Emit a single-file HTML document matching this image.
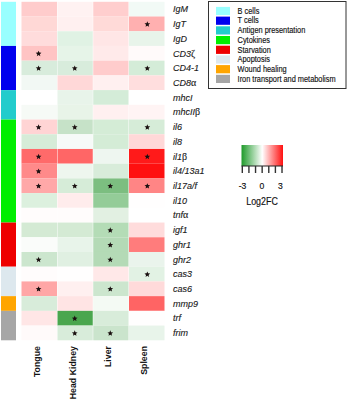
<!DOCTYPE html>
<html><head><meta charset="utf-8"><style>
html,body{margin:0;padding:0;background:#fff;}
body{width:348px;height:400px;overflow:hidden;}
svg{display:block;}
text{font-family:"Liberation Sans",sans-serif;fill:#1a1a1a;}
.lab{font-size:9px;font-style:italic;fill:#1a1a1a;stroke:#1a1a1a;stroke-width:0.12px;}
.gr{font-family:"Liberation Serif",serif;font-style:normal;font-size:10px;}
.leg{font-size:8.3px;fill:#111;stroke:#111;stroke-width:0.15px;}
.cs{font-size:8.6px;fill:#111;stroke:#111;stroke-width:0.15px;}
.cs2{font-size:10px;fill:#111;stroke:#111;stroke-width:0.15px;}
.col{font-size:8.8px;font-weight:bold;fill:#111;}
</style></head><body>
<svg width="348" height="400" viewBox="0 0 348 400">
<rect width="348" height="400" fill="#fff"/>
<rect x="1" y="1.80" width="15" height="44.15" fill="#99ffff"/>
<rect x="1" y="45.95" width="15" height="44.15" fill="#0000ee"/>
<rect x="1" y="90.10" width="15" height="29.43" fill="#22cccc"/>
<rect x="1" y="119.54" width="15" height="103.02" fill="#00ee00"/>
<rect x="1" y="222.56" width="15" height="44.15" fill="#ee0000"/>
<rect x="1" y="266.71" width="15" height="29.43" fill="#dde8ee"/>
<rect x="1" y="296.14" width="15" height="14.72" fill="#ffa500"/>
<rect x="1" y="310.86" width="15" height="29.43" fill="#a6a6a6"/>
<rect x="21.50" y="1.80" width="35.50" height="14.72" fill="#ffcccc"/>
<rect x="57.50" y="1.80" width="35.25" height="14.72" fill="#fff2f2"/>
<rect x="93.25" y="1.80" width="35.25" height="14.72" fill="#ffcece"/>
<rect x="129.00" y="1.80" width="35.50" height="14.72" fill="#f2faf6"/>
<text x="173" y="12.36" class="lab">IgM</text>
<rect x="21.50" y="16.52" width="35.50" height="14.72" fill="#ffd8d6"/>
<rect x="57.50" y="16.52" width="35.25" height="14.72" fill="#fff0f0"/>
<rect x="93.25" y="16.52" width="35.25" height="14.72" fill="#ffdad8"/>
<rect x="129.00" y="16.52" width="35.50" height="14.72" fill="#ffb0b0"/>
<polygon points="147.32,21.28 148.12,23.18 150.18,23.35 148.61,24.69 149.09,26.70 147.32,25.63 145.56,26.70 146.04,24.69 144.47,23.35 146.53,23.18" fill="#1a1010"/>
<text x="173" y="27.08" class="lab">IgT</text>
<rect x="21.50" y="31.23" width="35.50" height="14.72" fill="#ffdcdc"/>
<rect x="57.50" y="31.23" width="35.25" height="14.72" fill="#e0f2e4"/>
<rect x="93.25" y="31.23" width="35.25" height="14.72" fill="#ffe6e6"/>
<rect x="129.00" y="31.23" width="35.50" height="14.72" fill="#e8f4ea"/>
<text x="173" y="41.79" class="lab">IgD</text>
<rect x="21.50" y="45.95" width="35.50" height="14.72" fill="#ffc4c4"/>
<rect x="57.50" y="45.95" width="35.25" height="14.72" fill="#e6f4e8"/>
<rect x="93.25" y="45.95" width="35.25" height="14.72" fill="#ffeaea"/>
<rect x="129.00" y="45.95" width="35.50" height="14.72" fill="#fffafa"/>
<polygon points="38.58,50.71 39.37,52.62 41.43,52.78 39.86,54.13 40.34,56.14 38.58,55.06 36.81,56.14 37.29,54.13 35.72,52.78 37.78,52.62" fill="#1a1010"/>
<text x="173" y="56.51" class="lab">CD3<tspan class="gr">ζ</tspan></text>
<rect x="21.50" y="60.67" width="35.50" height="14.72" fill="#d8ecdc"/>
<rect x="57.50" y="60.67" width="35.25" height="14.72" fill="#d8ecdc"/>
<rect x="93.25" y="60.67" width="35.25" height="14.72" fill="#ffcccc"/>
<rect x="129.00" y="60.67" width="35.50" height="14.72" fill="#d4ecd8"/>
<polygon points="38.58,65.43 39.37,67.33 41.43,67.50 39.86,68.84 40.34,70.85 38.58,69.78 36.81,70.85 37.29,68.84 35.72,67.50 37.78,67.33" fill="#1a1010"/>
<polygon points="74.72,65.43 75.52,67.33 77.58,67.50 76.01,68.84 76.49,70.85 74.72,69.78 72.96,70.85 73.44,68.84 71.87,67.50 73.93,67.33" fill="#1a1010"/>
<polygon points="147.32,65.43 148.12,67.33 150.18,67.50 148.61,68.84 149.09,70.85 147.32,69.78 145.56,70.85 146.04,68.84 144.47,67.50 146.53,67.33" fill="#1a1010"/>
<text x="173" y="71.23" class="lab">CD4-1</text>
<rect x="21.50" y="75.39" width="35.50" height="14.72" fill="#f2f8f4"/>
<rect x="57.50" y="75.39" width="35.25" height="14.72" fill="#ffd8d8"/>
<rect x="93.25" y="75.39" width="35.25" height="14.72" fill="#fff0f0"/>
<rect x="129.00" y="75.39" width="35.50" height="14.72" fill="#ffdede"/>
<text x="173" y="85.94" class="lab">CD8<tspan class="gr">α</tspan></text>
<rect x="21.50" y="90.10" width="35.50" height="14.72" fill="#ffffff"/>
<rect x="57.50" y="90.10" width="35.25" height="14.72" fill="#e8f4ea"/>
<rect x="93.25" y="90.10" width="35.25" height="14.72" fill="#d4ecd8"/>
<rect x="129.00" y="90.10" width="35.50" height="14.72" fill="#ffffff"/>
<text x="173" y="100.66" class="lab">mhcI</text>
<rect x="21.50" y="104.82" width="35.50" height="14.72" fill="#f6faf6"/>
<rect x="57.50" y="104.82" width="35.25" height="14.72" fill="#e8f4e8"/>
<rect x="93.25" y="104.82" width="35.25" height="14.72" fill="#fff0f0"/>
<rect x="129.00" y="104.82" width="35.50" height="14.72" fill="#fff4f4"/>
<text x="173" y="115.38" class="lab">mhcII<tspan class="gr">β</tspan></text>
<rect x="21.50" y="119.54" width="35.50" height="14.72" fill="#ffd4d4"/>
<rect x="57.50" y="119.54" width="35.25" height="14.72" fill="#c6e2c8"/>
<rect x="93.25" y="119.54" width="35.25" height="14.72" fill="#d4ecd6"/>
<rect x="129.00" y="119.54" width="35.50" height="14.72" fill="#d6ecd8"/>
<polygon points="38.58,124.29 39.37,126.20 41.43,126.37 39.86,127.71 40.34,129.72 38.58,128.64 36.81,129.72 37.29,127.71 35.72,126.37 37.78,126.20" fill="#1a1010"/>
<polygon points="74.72,124.29 75.52,126.20 77.58,126.37 76.01,127.71 76.49,129.72 74.72,128.64 72.96,129.72 73.44,127.71 71.87,126.37 73.93,126.20" fill="#1a1010"/>
<polygon points="147.32,124.29 148.12,126.20 150.18,126.37 148.61,127.71 149.09,129.72 147.32,128.64 145.56,129.72 146.04,127.71 144.47,126.37 146.53,126.20" fill="#1a1010"/>
<text x="173" y="130.09" class="lab">il6</text>
<rect x="21.50" y="134.25" width="35.50" height="14.72" fill="#d6ecd8"/>
<rect x="57.50" y="134.25" width="35.25" height="14.72" fill="#f6faf8"/>
<rect x="93.25" y="134.25" width="35.25" height="14.72" fill="#d4ecd6"/>
<rect x="129.00" y="134.25" width="35.50" height="14.72" fill="#ffd8d8"/>
<text x="173" y="144.81" class="lab">il8</text>
<rect x="21.50" y="148.97" width="35.50" height="14.72" fill="#ff6a6a"/>
<rect x="57.50" y="148.97" width="35.25" height="14.72" fill="#ff6666"/>
<rect x="93.25" y="148.97" width="35.25" height="14.72" fill="#eef6f0"/>
<rect x="129.00" y="148.97" width="35.50" height="14.72" fill="#ff1a1a"/>
<polygon points="38.58,153.73 39.37,155.64 41.43,155.80 39.86,157.15 40.34,159.16 38.58,158.08 36.81,159.16 37.29,157.15 35.72,155.80 37.78,155.64" fill="#1a1010"/>
<polygon points="147.32,153.73 148.12,155.64 150.18,155.80 148.61,157.15 149.09,159.16 147.32,158.08 145.56,159.16 146.04,157.15 144.47,155.80 146.53,155.64" fill="#1a1010"/>
<text x="173" y="159.53" class="lab">il1<tspan class="gr">β</tspan></text>
<rect x="21.50" y="163.69" width="35.50" height="14.72" fill="#ff8a8a"/>
<rect x="57.50" y="163.69" width="35.25" height="14.72" fill="#eef6ee"/>
<rect x="93.25" y="163.69" width="35.25" height="14.72" fill="#d8ecda"/>
<rect x="129.00" y="163.69" width="35.50" height="14.72" fill="#ff1010"/>
<polygon points="38.58,168.45 39.37,170.35 41.43,170.52 39.86,171.86 40.34,173.87 38.58,172.80 36.81,173.87 37.29,171.86 35.72,170.52 37.78,170.35" fill="#1a1010"/>
<text x="173" y="174.25" class="lab">il4/13a1</text>
<rect x="21.50" y="178.40" width="35.50" height="14.72" fill="#ffa8a8"/>
<rect x="57.50" y="178.40" width="35.25" height="14.72" fill="#d6ecd8"/>
<rect x="93.25" y="178.40" width="35.25" height="14.72" fill="#7cbe80"/>
<rect x="129.00" y="178.40" width="35.50" height="14.72" fill="#ff8585"/>
<polygon points="38.58,183.16 39.37,185.07 41.43,185.24 39.86,186.58 40.34,188.59 38.58,187.51 36.81,188.59 37.29,186.58 35.72,185.24 37.78,185.07" fill="#1a1010"/>
<polygon points="74.72,183.16 75.52,185.07 77.58,185.24 76.01,186.58 76.49,188.59 74.72,187.51 72.96,188.59 73.44,186.58 71.87,185.24 73.93,185.07" fill="#1a1010"/>
<polygon points="110.28,183.16 111.07,185.07 113.13,185.24 111.56,186.58 112.04,188.59 110.28,187.51 108.51,188.59 108.99,186.58 107.42,185.24 109.48,185.07" fill="#1a1010"/>
<polygon points="147.32,183.16 148.12,185.07 150.18,185.24 148.61,186.58 149.09,188.59 147.32,187.51 145.56,188.59 146.04,186.58 144.47,185.24 146.53,185.07" fill="#1a1010"/>
<text x="173" y="188.96" class="lab">il17a/f</text>
<rect x="21.50" y="193.12" width="35.50" height="14.72" fill="#dcf0de"/>
<rect x="57.50" y="193.12" width="35.25" height="14.72" fill="#ffecec"/>
<rect x="93.25" y="193.12" width="35.25" height="14.72" fill="#94cc98"/>
<rect x="129.00" y="193.12" width="35.50" height="14.72" fill="#fffefe"/>
<text x="173" y="203.68" class="lab">il10</text>
<rect x="21.50" y="207.84" width="35.50" height="14.72" fill="#fffcfc"/>
<rect x="57.50" y="207.84" width="35.25" height="14.72" fill="#fffcfc"/>
<rect x="93.25" y="207.84" width="35.25" height="14.72" fill="#e2f0e2"/>
<rect x="129.00" y="207.84" width="35.50" height="14.72" fill="#ffffff"/>
<text x="173" y="218.40" class="lab">tnf<tspan class="gr">α</tspan></text>
<rect x="21.50" y="222.56" width="35.50" height="14.72" fill="#d4ead4"/>
<rect x="57.50" y="222.56" width="35.25" height="14.72" fill="#d4ead4"/>
<rect x="93.25" y="222.56" width="35.25" height="14.72" fill="#b4dcb6"/>
<rect x="129.00" y="222.56" width="35.50" height="14.72" fill="#ffdcdc"/>
<polygon points="110.28,227.31 111.07,229.22 113.13,229.39 111.56,230.73 112.04,232.74 110.28,231.66 108.51,232.74 108.99,230.73 107.42,229.39 109.48,229.22" fill="#1a1010"/>
<text x="173" y="233.11" class="lab">igf1</text>
<rect x="21.50" y="237.27" width="35.50" height="14.72" fill="#fafcfa"/>
<rect x="57.50" y="237.27" width="35.25" height="14.72" fill="#e8f4ea"/>
<rect x="93.25" y="237.27" width="35.25" height="14.72" fill="#b4dab6"/>
<rect x="129.00" y="237.27" width="35.50" height="14.72" fill="#ff7c7c"/>
<polygon points="110.28,242.03 111.07,243.94 113.13,244.10 111.56,245.45 112.04,247.46 110.28,246.38 108.51,247.46 108.99,245.45 107.42,244.10 109.48,243.94" fill="#1a1010"/>
<text x="173" y="247.83" class="lab">ghr1</text>
<rect x="21.50" y="251.99" width="35.50" height="14.72" fill="#cce6ce"/>
<rect x="57.50" y="251.99" width="35.25" height="14.72" fill="#e0f0e2"/>
<rect x="93.25" y="251.99" width="35.25" height="14.72" fill="#b4dab6"/>
<rect x="129.00" y="251.99" width="35.50" height="14.72" fill="#eaf4ec"/>
<polygon points="38.58,256.75 39.37,258.66 41.43,258.82 39.86,260.16 40.34,262.17 38.58,261.10 36.81,262.17 37.29,260.16 35.72,258.82 37.78,258.66" fill="#1a1010"/>
<polygon points="110.28,256.75 111.07,258.66 113.13,258.82 111.56,260.16 112.04,262.17 110.28,261.10 108.51,262.17 108.99,260.16 107.42,258.82 109.48,258.66" fill="#1a1010"/>
<text x="173" y="262.55" class="lab">ghr2</text>
<rect x="21.50" y="266.71" width="35.50" height="14.72" fill="#fffcfc"/>
<rect x="57.50" y="266.71" width="35.25" height="14.72" fill="#fffefe"/>
<rect x="93.25" y="266.71" width="35.25" height="14.72" fill="#ffe8e8"/>
<rect x="129.00" y="266.71" width="35.50" height="14.72" fill="#e2f2e4"/>
<polygon points="147.32,271.46 148.12,273.37 150.18,273.54 148.61,274.88 149.09,276.89 147.32,275.81 145.56,276.89 146.04,274.88 144.47,273.54 146.53,273.37" fill="#1a1010"/>
<text x="173" y="277.26" class="lab">cas3</text>
<rect x="21.50" y="281.42" width="35.50" height="14.72" fill="#ffa6a6"/>
<rect x="57.50" y="281.42" width="35.25" height="14.72" fill="#fff0f0"/>
<rect x="93.25" y="281.42" width="35.25" height="14.72" fill="#cce6ce"/>
<rect x="129.00" y="281.42" width="35.50" height="14.72" fill="#ffdada"/>
<polygon points="38.58,286.18 39.37,288.09 41.43,288.25 39.86,289.60 40.34,291.61 38.58,290.53 36.81,291.61 37.29,289.60 35.72,288.25 37.78,288.09" fill="#1a1010"/>
<polygon points="110.28,286.18 111.07,288.09 113.13,288.25 111.56,289.60 112.04,291.61 110.28,290.53 108.51,291.61 108.99,289.60 107.42,288.25 109.48,288.09" fill="#1a1010"/>
<text x="173" y="291.98" class="lab">cas6</text>
<rect x="21.50" y="296.14" width="35.50" height="14.72" fill="#d8ecda"/>
<rect x="57.50" y="296.14" width="35.25" height="14.72" fill="#ffe4e4"/>
<rect x="93.25" y="296.14" width="35.25" height="14.72" fill="#f4faf4"/>
<rect x="129.00" y="296.14" width="35.50" height="14.72" fill="#ff6464"/>
<text x="173" y="306.70" class="lab">mmp9</text>
<rect x="21.50" y="310.86" width="35.50" height="14.72" fill="#ffe6e6"/>
<rect x="57.50" y="310.86" width="35.25" height="14.72" fill="#4aa64e"/>
<rect x="93.25" y="310.86" width="35.25" height="14.72" fill="#d8ecda"/>
<rect x="129.00" y="310.86" width="35.50" height="14.72" fill="#fffefe"/>
<polygon points="74.72,315.62 75.52,317.52 77.58,317.69 76.01,319.03 76.49,321.04 74.72,319.97 72.96,321.04 73.44,319.03 71.87,317.69 73.93,317.52" fill="#1a1010"/>
<text x="173" y="321.42" class="lab">trf</text>
<rect x="21.50" y="325.57" width="35.50" height="14.72" fill="#fffafa"/>
<rect x="57.50" y="325.57" width="35.25" height="14.72" fill="#d8ecda"/>
<rect x="93.25" y="325.57" width="35.25" height="14.72" fill="#cae4cc"/>
<rect x="129.00" y="325.57" width="35.50" height="14.72" fill="#e8f4ea"/>
<polygon points="74.72,330.33 75.52,332.24 77.58,332.41 76.01,333.75 76.49,335.76 74.72,334.68 72.96,335.76 73.44,333.75 71.87,332.41 73.93,332.24" fill="#1a1010"/>
<polygon points="110.28,330.33 111.07,332.24 113.13,332.41 111.56,333.75 112.04,335.76 110.28,334.68 108.51,335.76 108.99,333.75 107.42,332.41 109.48,332.24" fill="#1a1010"/>
<text x="173" y="336.13" class="lab">frim</text>
<rect x="208.5" y="1.5" width="137.5" height="87" fill="none" stroke="#333" stroke-width="1"/>
<rect x="216" y="6.90" width="14" height="8.2" fill="#99ffff"/>
<text transform="translate(237.6,13.70) scale(0.89,1)" class="leg">B cells</text>
<rect x="216" y="16.60" width="14" height="8.2" fill="#0000ee"/>
<text transform="translate(237.6,23.40) scale(0.89,1)" class="leg">T cells</text>
<rect x="216" y="26.30" width="14" height="8.2" fill="#22cccc"/>
<text transform="translate(237.6,33.10) scale(0.89,1)" class="leg">Antigen presentation</text>
<rect x="216" y="36.00" width="14" height="8.2" fill="#00ee00"/>
<text transform="translate(237.6,42.80) scale(0.89,1)" class="leg">Cytokines</text>
<rect x="216" y="45.70" width="14" height="8.2" fill="#ee0000"/>
<text transform="translate(237.6,52.50) scale(0.89,1)" class="leg">Starvation</text>
<rect x="216" y="55.40" width="14" height="8.2" fill="#dde8ee"/>
<text transform="translate(237.6,62.20) scale(0.89,1)" class="leg">Apoptosis</text>
<rect x="216" y="65.10" width="14" height="8.2" fill="#ffa500"/>
<text transform="translate(237.6,71.90) scale(0.89,1)" class="leg">Wound healing</text>
<rect x="216" y="74.80" width="14" height="8.2" fill="#a6a6a6"/>
<text transform="translate(237.6,81.60) scale(0.89,1)" class="leg">Iron transport and metabolism</text>
<defs><linearGradient id="g" x1="0" x2="1" y1="0" y2="0">
<stop offset="0" stop-color="#1e9a2a"/><stop offset="0.5" stop-color="#ffffff"/><stop offset="1" stop-color="#ff1010"/>
</linearGradient></defs>
<rect x="241.5" y="145" width="41.5" height="21" fill="url(#g)"/>
<line x1="241.5" y1="166" x2="283" y2="166" stroke="#222" stroke-width="1"/>
<line x1="242.30" y1="166" x2="242.30" y2="173" stroke="#333" stroke-width="1.4"/>
<line x1="248.92" y1="166" x2="248.92" y2="173" stroke="#333" stroke-width="1.4"/>
<line x1="255.54" y1="166" x2="255.54" y2="173" stroke="#333" stroke-width="1.4"/>
<line x1="262.16" y1="166" x2="262.16" y2="173" stroke="#333" stroke-width="1.4"/>
<line x1="268.78" y1="166" x2="268.78" y2="173" stroke="#333" stroke-width="1.4"/>
<line x1="275.40" y1="166" x2="275.40" y2="173" stroke="#333" stroke-width="1.4"/>
<line x1="282.02" y1="166" x2="282.02" y2="173" stroke="#333" stroke-width="1.4"/>
<text x="242.5" y="188.8" class="cs" text-anchor="middle">-3</text>
<text x="261.8" y="188.8" class="cs" text-anchor="middle">0</text>
<text x="280.5" y="188.8" class="cs" text-anchor="middle">3</text>
<text transform="translate(262,205) scale(0.89,1)" class="cs2" text-anchor="middle">Log2FC</text>
<text transform="translate(39.98,346) rotate(-90)" class="col" text-anchor="end">Tongue</text>
<text transform="translate(75.72,346) rotate(-90)" class="col" text-anchor="end">Head Kidney</text>
<text transform="translate(111.47,346) rotate(-90)" class="col" text-anchor="end">Liver</text>
<text transform="translate(147.22,346) rotate(-90)" class="col" text-anchor="end">Spleen</text>
</svg>
</body></html>
